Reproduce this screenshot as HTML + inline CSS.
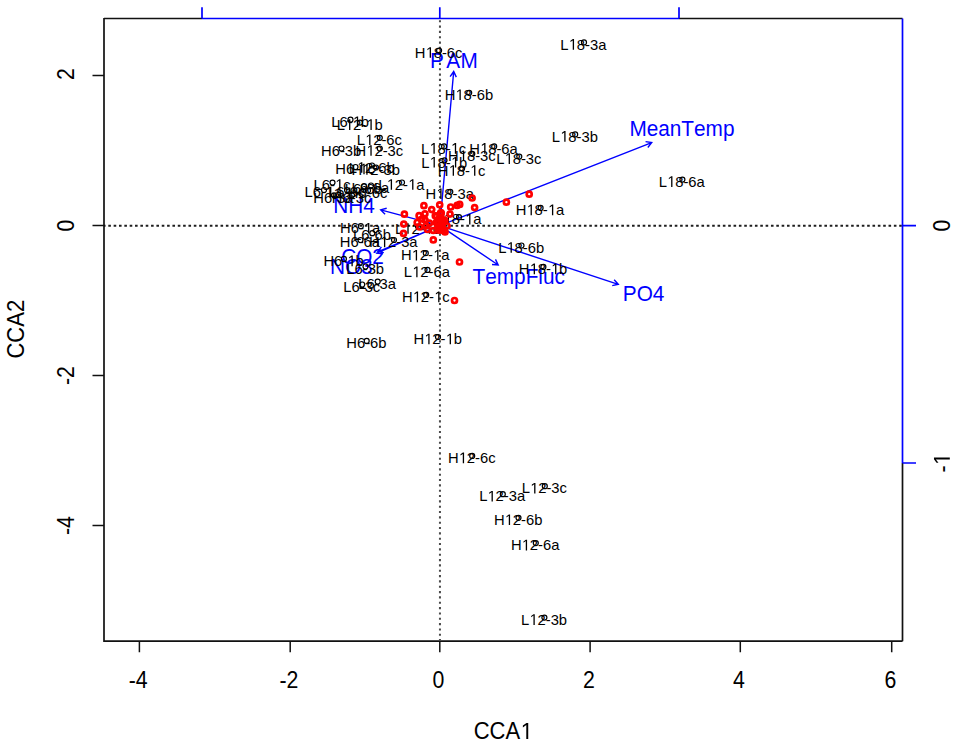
<!DOCTYPE html><html><head><meta charset="utf-8"><style>html,body{margin:0;padding:0;background:#fff;}svg{display:block;}text{font-family:"Liberation Sans",sans-serif;font-kerning:none;}</style></head><body>
<svg width="957" height="745" viewBox="0 0 957 745">
<rect width="957" height="745" fill="#fff"/>
<line x1="104" y1="225.75" x2="902" y2="225.75" stroke="#1e1e1e" stroke-width="2" stroke-dasharray="2.6 2.744" stroke-dashoffset="-4.3"/>
<line x1="439.95" y1="19.5" x2="439.95" y2="640" stroke="#4a4a4a" stroke-width="2" stroke-dasharray="2.1 3.235" stroke-dashoffset="-0.69"/>
<path d="M104 18.5 H202 M679 18.5 H902.5 M104 18 V641.2 H902.5 M902.5 463 V641.2" stroke="#111" stroke-width="1.7" fill="none"/>
<path d="M202 18.5 H679 M902.5 18.5 V463" stroke="#00f" stroke-width="1.7" fill="none"/>
<path d="M139.4 641 V652.2 M290.2 641 V652.2 M439.8 641 V652.2 M590.1 641 V652.2 M740.3 641 V652.2 M891.7 641 V652.2 M92.5 75.6 H104 M92.5 225.6 H104 M92.5 375.6 H104 M92.5 525.6 H104" stroke="#111" stroke-width="1.5" fill="none"/>
<path d="M202 7.3 V18.5 M439.8 7.3 V18.5 M679 7.3 V18.5 M902.5 225.6 H916 M902.5 463 H916" stroke="#00f" stroke-width="1.7" fill="none"/>
<g transform="translate(138.1 687.5) scale(1 1.08)" fill="#000"><text x="-9.47" font-size="21.3">-4</text></g>
<g transform="translate(288.9 687.5) scale(1 1.08)" fill="#000"><text x="-9.47" font-size="21.3">-2</text></g>
<g transform="translate(438.5 687.5) scale(1 1.08)" fill="#000"><text x="-5.92" font-size="21.3">0</text></g>
<g transform="translate(588.8 687.5) scale(1 1.08)" fill="#000"><text x="-5.92" font-size="21.3">2</text></g>
<g transform="translate(739.0 687.5) scale(1 1.08)" fill="#000"><text x="-5.92" font-size="21.3">4</text></g>
<g transform="translate(890.4 687.5) scale(1 1.08)" fill="#000"><text x="-5.92" font-size="21.3">6</text></g>
<g transform="translate(73.8 74.2) rotate(-90) scale(1 1.08)" fill="#000"><text x="-5.92" font-size="21.3">2</text></g>
<g transform="translate(73.8 225.6) rotate(-90) scale(1 1.08)" fill="#000"><text x="-5.92" font-size="21.3">0</text></g>
<g transform="translate(73.8 375.6) rotate(-90) scale(1 1.08)" fill="#000"><text x="-9.47" font-size="21.3">-2</text></g>
<g transform="translate(73.8 525.6) rotate(-90) scale(1 1.08)" fill="#000"><text x="-9.47" font-size="21.3">-4</text></g>
<g transform="translate(949.8 225.6) rotate(-90) scale(1 1.08)" fill="#000"><text x="-5.92" font-size="21.3">0</text></g>
<g transform="translate(949.8 463) rotate(-90) scale(1 1.08)" fill="#000"><text x="-9.47" font-size="21.3">- </text><path d="M575 0V1237L257 1010V1180L590 1409H756V0Z" transform="translate(-2.38 0) scale(0.01040 -0.01040)"/></g>
<g transform="translate(503.0 738.9) scale(1 1.05)" fill="#000"><text x="-29.34" font-size="22">CCA </text><path d="M575 0V1237L257 1010V1180L590 1409H756V0Z" transform="translate(17.11 0) scale(0.01074 -0.01074)"/></g>
<g transform="translate(23.5 329.2) rotate(-90) scale(1 1.05)" fill="#000"><text x="-29.34" font-size="22">CCA2</text></g>
<path d="M439.8 225.6 L453.7 71.5 M450.13 76.57 L453.7 71.5 L456.31 77.13 M439.8 225.6 L651.7 142.6 M645.57 141.67 L651.7 142.6 L647.83 147.44 M439.8 225.6 L618.3 284.3 M614.17 279.68 L618.3 284.3 L612.23 285.57 M439.8 225.6 L498.2 265 M495.48 259.43 L498.2 265 L492.02 264.57 M439.8 225.6 L380.7 209.9 M385.09 214.27 L380.7 209.9 L386.69 208.28 M439.8 225.6 L377.7 251.8 M383.85 252.57 L377.7 251.8 L381.44 246.86 M439.8 225.6 L376.8 253.2 M382.96 253.88 L376.8 253.2 L380.47 248.21" stroke="#00f" stroke-width="1.4" fill="none" stroke-linejoin="miter"/>
<g transform="translate(429.89 67.7) scale(1 1.08)" fill="#00f"><text x="0" font-size="20.8" dx="0 2.5 0.3">PAM</text></g><g transform="translate(629.39 136.1) scale(1 1.08)" fill="#00f"><text x="0" font-size="20.8">MeanTemp</text></g><g transform="translate(622.79 301.2) scale(1 1.08)" fill="#00f"><text x="0" font-size="20.8">PO4</text></g><g transform="translate(472.53 284) scale(1 1.08)" fill="#00f"><text x="0" font-size="20.8">TempFluc</text></g><g transform="translate(333.29 213) scale(1 1.08)" fill="#00f"><text x="0" font-size="20.8">NH4</text></g><g transform="translate(341.14 264) scale(1 1.08)" fill="#00f"><text x="0" font-size="20.8">CO2</text></g><g transform="translate(329.89 274) scale(1 1.08)" fill="#00f"><text x="0" font-size="20.8">NO3</text></g>
<g fill="none" stroke="#000" stroke-width="1.2"><circle cx="439.1" cy="50.5" r="2.5"/><circle cx="584" cy="42.4" r="2.5"/><circle cx="469.2" cy="92.8" r="2.5"/><circle cx="575.2" cy="134.4" r="2.5"/><circle cx="350.5" cy="119.7" r="2.5"/><circle cx="360" cy="122.6" r="2.5"/><circle cx="379.8" cy="137.8" r="2.5"/><circle cx="341.5" cy="148.5" r="2.5"/><circle cx="379.8" cy="148.5" r="2.5"/><circle cx="444.1" cy="146.4" r="2.5"/><circle cx="494.2" cy="146.4" r="2.5"/><circle cx="472.3" cy="153.8" r="2.5"/><circle cx="444.5" cy="160.3" r="2.5"/><circle cx="519.3" cy="156.6" r="2.5"/><circle cx="462.1" cy="168.5" r="2.5"/><circle cx="682.4" cy="179.6" r="2.5"/><circle cx="450.3" cy="191.8" r="2.5"/><circle cx="402" cy="182.5" r="2.5"/><circle cx="540.6" cy="207.9" r="2.5"/><circle cx="459" cy="217.2" r="2.5"/><circle cx="360.8" cy="226.2" r="2.5"/><circle cx="372.3" cy="233.2" r="2.5"/><circle cx="360.5" cy="240" r="2.5"/><circle cx="394" cy="240" r="2.5"/><circle cx="418" cy="226.5" r="2.5"/><circle cx="521.5" cy="245.5" r="2.5"/><circle cx="543.4" cy="266.9" r="2.5"/><circle cx="425.8" cy="253.2" r="2.5"/><circle cx="427.5" cy="269.9" r="2.5"/><circle cx="426.2" cy="294.9" r="2.5"/><circle cx="343.9" cy="258.9" r="2.5"/><circle cx="365.5" cy="266.5" r="2.5"/><circle cx="377.7" cy="281.6" r="2.5"/><circle cx="362.2" cy="284.5" r="2.5"/><circle cx="366.7" cy="340.9" r="2.5"/><circle cx="438" cy="337" r="2.5"/><circle cx="472.2" cy="455.9" r="2.5"/><circle cx="544.8" cy="486.2" r="2.5"/><circle cx="502.8" cy="494.2" r="2.5"/><circle cx="518.5" cy="517.8" r="2.5"/><circle cx="535.8" cy="543.1" r="2.5"/><circle cx="544.4" cy="617.6" r="2.5"/><circle cx="355.5" cy="167" r="2.5"/><circle cx="376" cy="167.5" r="2.5"/><circle cx="372" cy="165.5" r="2.5"/><circle cx="332.5" cy="182.6" r="2.5"/><circle cx="371" cy="185.5" r="2.5"/><circle cx="364" cy="186.5" r="2.5"/><circle cx="324" cy="190" r="2.5"/><circle cx="347" cy="190" r="2.5"/><circle cx="368" cy="190.5" r="2.5"/><circle cx="334" cy="195.3" r="2.5"/><circle cx="352" cy="195.3" r="2.5"/></g>
<g transform="translate(414.83 57.79) scale(1 1.04)" fill="#000"><text x="0" font-size="14.8">H 8-6c</text><path d="M575 0V1237L257 1010V1180L590 1409H756V0Z" transform="translate(10.69 0) scale(0.00723 -0.00723)"/></g><g transform="translate(560.35 49.69) scale(1 1.04)" fill="#000"><text x="0" font-size="14.8">L 8-3a</text><path d="M575 0V1237L257 1010V1180L590 1409H756V0Z" transform="translate(8.23 0) scale(0.00723 -0.00723)"/></g><g transform="translate(444.63 100.09) scale(1 1.04)" fill="#000"><text x="0" font-size="14.8">H 8-6b</text><path d="M575 0V1237L257 1010V1180L590 1409H756V0Z" transform="translate(10.69 0) scale(0.00723 -0.00723)"/></g><g transform="translate(551.86 141.69) scale(1 1.04)" fill="#000"><text x="0" font-size="14.8">L 8-3b</text><path d="M575 0V1237L257 1010V1180L590 1409H756V0Z" transform="translate(8.23 0) scale(0.00723 -0.00723)"/></g><g transform="translate(331.28 126.99) scale(1 1.04)" fill="#000"><text x="0" font-size="14.8">L6- b</text><path d="M575 0V1237L257 1010V1180L590 1409H756V0Z" transform="translate(21.39 0) scale(0.00723 -0.00723)"/></g><g transform="translate(336.66 129.89) scale(1 1.04)" fill="#000"><text x="0" font-size="14.8">L 2- b</text><path d="M575 0V1237L257 1010V1180L590 1409H756V0Z" transform="translate(8.23 0) scale(0.00723 -0.00723)"/><path d="M575 0V1237L257 1010V1180L590 1409H756V0Z" transform="translate(29.62 0) scale(0.00723 -0.00723)"/></g><g transform="translate(356.76 145.09) scale(1 1.04)" fill="#000"><text x="0" font-size="14.8">L 2-6c</text><path d="M575 0V1237L257 1010V1180L590 1409H756V0Z" transform="translate(8.23 0) scale(0.00723 -0.00723)"/></g><g transform="translate(321.05 155.79) scale(1 1.04)" fill="#000"><text x="0" font-size="14.8">H6-3b</text></g><g transform="translate(355.53 155.79) scale(1 1.04)" fill="#000"><text x="0" font-size="14.8">H 2-3c</text><path d="M575 0V1237L257 1010V1180L590 1409H756V0Z" transform="translate(10.69 0) scale(0.00723 -0.00723)"/></g><g transform="translate(421.06 153.69) scale(1 1.04)" fill="#000"><text x="0" font-size="14.8">L 8- c</text><path d="M575 0V1237L257 1010V1180L590 1409H756V0Z" transform="translate(8.23 0) scale(0.00723 -0.00723)"/><path d="M575 0V1237L257 1010V1180L590 1409H756V0Z" transform="translate(29.62 0) scale(0.00723 -0.00723)"/></g><g transform="translate(469.32 153.69) scale(1 1.04)" fill="#000"><text x="0" font-size="14.8">H 8-6a</text><path d="M575 0V1237L257 1010V1180L590 1409H756V0Z" transform="translate(10.69 0) scale(0.00723 -0.00723)"/></g><g transform="translate(448.03 161.09) scale(1 1.04)" fill="#000"><text x="0" font-size="14.8">H 8-3c</text><path d="M575 0V1237L257 1010V1180L590 1409H756V0Z" transform="translate(10.69 0) scale(0.00723 -0.00723)"/></g><g transform="translate(421.16 167.59) scale(1 1.04)" fill="#000"><text x="0" font-size="14.8">L 8- b</text><path d="M575 0V1237L257 1010V1180L590 1409H756V0Z" transform="translate(8.23 0) scale(0.00723 -0.00723)"/><path d="M575 0V1237L257 1010V1180L590 1409H756V0Z" transform="translate(29.62 0) scale(0.00723 -0.00723)"/></g><g transform="translate(496.26 163.89) scale(1 1.04)" fill="#000"><text x="0" font-size="14.8">L 8-3c</text><path d="M575 0V1237L257 1010V1180L590 1409H756V0Z" transform="translate(8.23 0) scale(0.00723 -0.00723)"/></g><g transform="translate(437.83 175.79) scale(1 1.04)" fill="#000"><text x="0" font-size="14.8">H 8- c</text><path d="M575 0V1237L257 1010V1180L590 1409H756V0Z" transform="translate(10.69 0) scale(0.00723 -0.00723)"/><path d="M575 0V1237L257 1010V1180L590 1409H756V0Z" transform="translate(32.08 0) scale(0.00723 -0.00723)"/></g><g transform="translate(658.75 186.89) scale(1 1.04)" fill="#000"><text x="0" font-size="14.8">L 8-6a</text><path d="M575 0V1237L257 1010V1180L590 1409H756V0Z" transform="translate(8.23 0) scale(0.00723 -0.00723)"/></g><g transform="translate(425.42 199.09) scale(1 1.04)" fill="#000"><text x="0" font-size="14.8">H 8-3a</text><path d="M575 0V1237L257 1010V1180L590 1409H756V0Z" transform="translate(10.69 0) scale(0.00723 -0.00723)"/></g><g transform="translate(378.35 189.79) scale(1 1.04)" fill="#000"><text x="0" font-size="14.8">L 2- a</text><path d="M575 0V1237L257 1010V1180L590 1409H756V0Z" transform="translate(8.23 0) scale(0.00723 -0.00723)"/><path d="M575 0V1237L257 1010V1180L590 1409H756V0Z" transform="translate(29.62 0) scale(0.00723 -0.00723)"/></g><g transform="translate(515.72 215.19) scale(1 1.04)" fill="#000"><text x="0" font-size="14.8">H 8- a</text><path d="M575 0V1237L257 1010V1180L590 1409H756V0Z" transform="translate(10.69 0) scale(0.00723 -0.00723)"/><path d="M575 0V1237L257 1010V1180L590 1409H756V0Z" transform="translate(32.08 0) scale(0.00723 -0.00723)"/></g><g transform="translate(435.35 224.49) scale(1 1.04)" fill="#000"><text x="0" font-size="14.8">L 8- a</text><path d="M575 0V1237L257 1010V1180L590 1409H756V0Z" transform="translate(8.23 0) scale(0.00723 -0.00723)"/><path d="M575 0V1237L257 1010V1180L590 1409H756V0Z" transform="translate(29.62 0) scale(0.00723 -0.00723)"/></g><g transform="translate(340.04 233.49) scale(1 1.04)" fill="#000"><text x="0" font-size="14.8">H6- a</text><path d="M575 0V1237L257 1010V1180L590 1409H756V0Z" transform="translate(23.85 0) scale(0.00723 -0.00723)"/></g><g transform="translate(353.08 240.49) scale(1 1.04)" fill="#000"><text x="0" font-size="14.8">L6-6b</text></g><g transform="translate(339.74 247.29) scale(1 1.04)" fill="#000"><text x="0" font-size="14.8">H6-6a</text></g><g transform="translate(369.12 247.29) scale(1 1.04)" fill="#000"><text x="0" font-size="14.8">H 2-3a</text><path d="M575 0V1237L257 1010V1180L590 1409H756V0Z" transform="translate(10.69 0) scale(0.00723 -0.00723)"/></g><g transform="translate(394.96 233.79) scale(1 1.04)" fill="#000"><text x="0" font-size="14.8">L 2- c</text><path d="M575 0V1237L257 1010V1180L590 1409H756V0Z" transform="translate(8.23 0) scale(0.00723 -0.00723)"/><path d="M575 0V1237L257 1010V1180L590 1409H756V0Z" transform="translate(29.62 0) scale(0.00723 -0.00723)"/></g><g transform="translate(498.16 252.79) scale(1 1.04)" fill="#000"><text x="0" font-size="14.8">L 8-6b</text><path d="M575 0V1237L257 1010V1180L590 1409H756V0Z" transform="translate(8.23 0) scale(0.00723 -0.00723)"/></g><g transform="translate(518.83 274.19) scale(1 1.04)" fill="#000"><text x="0" font-size="14.8">H 8- b</text><path d="M575 0V1237L257 1010V1180L590 1409H756V0Z" transform="translate(10.69 0) scale(0.00723 -0.00723)"/><path d="M575 0V1237L257 1010V1180L590 1409H756V0Z" transform="translate(32.08 0) scale(0.00723 -0.00723)"/></g><g transform="translate(400.92 260.49) scale(1 1.04)" fill="#000"><text x="0" font-size="14.8">H 2- a</text><path d="M575 0V1237L257 1010V1180L590 1409H756V0Z" transform="translate(10.69 0) scale(0.00723 -0.00723)"/><path d="M575 0V1237L257 1010V1180L590 1409H756V0Z" transform="translate(32.08 0) scale(0.00723 -0.00723)"/></g><g transform="translate(403.85 277.19) scale(1 1.04)" fill="#000"><text x="0" font-size="14.8">L 2-6a</text><path d="M575 0V1237L257 1010V1180L590 1409H756V0Z" transform="translate(8.23 0) scale(0.00723 -0.00723)"/></g><g transform="translate(401.93 302.19) scale(1 1.04)" fill="#000"><text x="0" font-size="14.8">H 2- c</text><path d="M575 0V1237L257 1010V1180L590 1409H756V0Z" transform="translate(10.69 0) scale(0.00723 -0.00723)"/><path d="M575 0V1237L257 1010V1180L590 1409H756V0Z" transform="translate(32.08 0) scale(0.00723 -0.00723)"/></g><g transform="translate(323.45 266.19) scale(1 1.04)" fill="#000"><text x="0" font-size="14.8">H6- b</text><path d="M575 0V1237L257 1010V1180L590 1409H756V0Z" transform="translate(23.85 0) scale(0.00723 -0.00723)"/></g><g transform="translate(346.28 273.79) scale(1 1.04)" fill="#000"><text x="0" font-size="14.8">L6-3b</text></g><g transform="translate(358.17 288.89) scale(1 1.04)" fill="#000"><text x="0" font-size="14.8">L6-3a</text></g><g transform="translate(343.28 291.79) scale(1 1.04)" fill="#000"><text x="0" font-size="14.8">L6-3c</text></g><g transform="translate(346.25 348.19) scale(1 1.04)" fill="#000"><text x="0" font-size="14.8">H6-6b</text></g><g transform="translate(413.43 344.29) scale(1 1.04)" fill="#000"><text x="0" font-size="14.8">H 2- b</text><path d="M575 0V1237L257 1010V1180L590 1409H756V0Z" transform="translate(10.69 0) scale(0.00723 -0.00723)"/><path d="M575 0V1237L257 1010V1180L590 1409H756V0Z" transform="translate(32.08 0) scale(0.00723 -0.00723)"/></g><g transform="translate(447.93 463.19) scale(1 1.04)" fill="#000"><text x="0" font-size="14.8">H 2-6c</text><path d="M575 0V1237L257 1010V1180L590 1409H756V0Z" transform="translate(10.69 0) scale(0.00723 -0.00723)"/></g><g transform="translate(521.76 493.49) scale(1 1.04)" fill="#000"><text x="0" font-size="14.8">L 2-3c</text><path d="M575 0V1237L257 1010V1180L590 1409H756V0Z" transform="translate(8.23 0) scale(0.00723 -0.00723)"/></g><g transform="translate(479.15 501.49) scale(1 1.04)" fill="#000"><text x="0" font-size="14.8">L 2-3a</text><path d="M575 0V1237L257 1010V1180L590 1409H756V0Z" transform="translate(8.23 0) scale(0.00723 -0.00723)"/></g><g transform="translate(493.93 525.09) scale(1 1.04)" fill="#000"><text x="0" font-size="14.8">H 2-6b</text><path d="M575 0V1237L257 1010V1180L590 1409H756V0Z" transform="translate(10.69 0) scale(0.00723 -0.00723)"/></g><g transform="translate(510.92 550.39) scale(1 1.04)" fill="#000"><text x="0" font-size="14.8">H 2-6a</text><path d="M575 0V1237L257 1010V1180L590 1409H756V0Z" transform="translate(10.69 0) scale(0.00723 -0.00723)"/></g><g transform="translate(521.06 624.89) scale(1 1.04)" fill="#000"><text x="0" font-size="14.8">L 2-3b</text><path d="M575 0V1237L257 1010V1180L590 1409H756V0Z" transform="translate(8.23 0) scale(0.00723 -0.00723)"/></g><g transform="translate(335.35 174.29) scale(1 1.04)" fill="#000"><text x="0" font-size="14.8">H6- c</text><path d="M575 0V1237L257 1010V1180L590 1409H756V0Z" transform="translate(23.85 0) scale(0.00723 -0.00723)"/></g><g transform="translate(351.43 174.79) scale(1 1.04)" fill="#000"><text x="0" font-size="14.8">H 2-3b</text><path d="M575 0V1237L257 1010V1180L590 1409H756V0Z" transform="translate(10.69 0) scale(0.00723 -0.00723)"/></g><g transform="translate(348.66 172.79) scale(1 1.04)" fill="#000"><text x="0" font-size="14.8">L 2-6b</text><path d="M575 0V1237L257 1010V1180L590 1409H756V0Z" transform="translate(8.23 0) scale(0.00723 -0.00723)"/></g><g transform="translate(313.58 189.89) scale(1 1.04)" fill="#000"><text x="0" font-size="14.8">L6- c</text><path d="M575 0V1237L257 1010V1180L590 1409H756V0Z" transform="translate(21.39 0) scale(0.00723 -0.00723)"/></g><g transform="translate(351.47 192.79) scale(1 1.04)" fill="#000"><text x="0" font-size="14.8">L6-6a</text></g><g transform="translate(344.78 193.79) scale(1 1.04)" fill="#000"><text x="0" font-size="14.8">L6-6b</text></g><g transform="translate(304.47 197.29) scale(1 1.04)" fill="#000"><text x="0" font-size="14.8">L6- a</text><path d="M575 0V1237L257 1010V1180L590 1409H756V0Z" transform="translate(21.39 0) scale(0.00723 -0.00723)"/></g><g transform="translate(328.08 197.29) scale(1 1.04)" fill="#000"><text x="0" font-size="14.8">L6-6c</text></g><g transform="translate(347.85 197.79) scale(1 1.04)" fill="#000"><text x="0" font-size="14.8">H6-6c</text></g><g transform="translate(313.24 202.59) scale(1 1.04)" fill="#000"><text x="0" font-size="14.8">H6-3a</text></g><g transform="translate(331.85 202.59) scale(1 1.04)" fill="#000"><text x="0" font-size="14.8">H6-3c</text></g>
<g fill="none" stroke="#f00" stroke-width="2.7"><circle cx="423.9" cy="205.7" r="2.5"/><circle cx="431.7" cy="209.6" r="2.5"/><circle cx="439.7" cy="204.8" r="2.5"/><circle cx="450.7" cy="207" r="2.5"/><circle cx="457.1" cy="205.4" r="2.5"/><circle cx="459.7" cy="204.4" r="2.5"/><circle cx="424.9" cy="213.8" r="2.5"/><circle cx="419.1" cy="215.7" r="2.5"/><circle cx="450" cy="214.1" r="2.5"/><circle cx="433.3" cy="239.9" r="2.5"/><circle cx="444.2" cy="230.5" r="2.5"/><circle cx="419.7" cy="227" r="2.5"/><circle cx="427.5" cy="229.5" r="2.5"/><circle cx="433.3" cy="230.5" r="2.5"/><circle cx="429.4" cy="223.1" r="2.5"/><circle cx="417.2" cy="222.5" r="2.5"/><circle cx="422" cy="219" r="2.5"/><circle cx="426" cy="226" r="2.5"/><circle cx="425" cy="220" r="2.5"/><circle cx="404.4" cy="214.2" r="2.5"/><circle cx="403.8" cy="224.1" r="2.5"/><circle cx="403.5" cy="233.4" r="2.5"/><circle cx="472.1" cy="198" r="2.5"/><circle cx="474.6" cy="207.6" r="2.5"/><circle cx="506.4" cy="202.2" r="2.5"/><circle cx="529.2" cy="194.2" r="2.5"/><circle cx="459.5" cy="262" r="2.5"/><circle cx="454.5" cy="300.5" r="2.5"/><circle cx="447" cy="226" r="2.5"/><circle cx="445" cy="232" r="2.5"/><circle cx="436.42" cy="222.38" r="2.5"/><circle cx="437.87" cy="223.58" r="2.5"/><circle cx="440.68" cy="212.81" r="2.5"/><circle cx="436.65" cy="216.19" r="2.5"/><circle cx="444.75" cy="220.91" r="2.5"/><circle cx="443" cy="221.03" r="2.5"/><circle cx="440.83" cy="214.51" r="2.5"/><circle cx="440.78" cy="228.86" r="2.5"/><circle cx="439.55" cy="226.33" r="2.5"/><circle cx="441.19" cy="212.78" r="2.5"/><circle cx="442.14" cy="223.32" r="2.5"/><circle cx="443.32" cy="220.95" r="2.5"/><circle cx="441.71" cy="229.08" r="2.5"/><circle cx="441.66" cy="229.92" r="2.5"/><circle cx="438.14" cy="227.52" r="2.5"/><circle cx="438.69" cy="230.21" r="2.5"/><circle cx="435.3" cy="215.84" r="2.5"/><circle cx="444.42" cy="220.22" r="2.5"/><circle cx="440.69" cy="217.52" r="2.5"/><circle cx="439.38" cy="219.22" r="2.5"/><circle cx="437.66" cy="223.2" r="2.5"/><circle cx="440.23" cy="229.58" r="2.5"/></g>
</svg></body></html>
